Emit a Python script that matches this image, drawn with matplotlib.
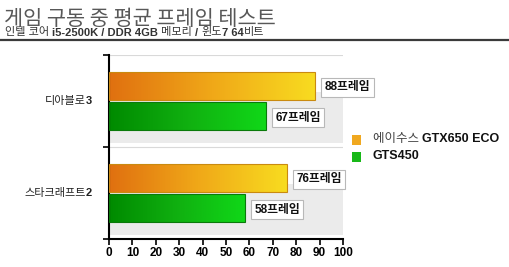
import numpy as np
import matplotlib
matplotlib.use('Agg')
import matplotlib.pyplot as plt
from matplotlib.colors import LinearSegmentedColormap
from matplotlib.patches import Rectangle
from matplotlib.lines import Line2D

# data
games = ['디아블로3', '스타크래프트2']          # top to bottom
game_names = ['디아블로', '스타크래프트']
game_nums = ['3', '2']
gtx650 = [88, 76]
gts450 = [67, 58]
series_prefix = ['에이수스 ', '']
series_model = ['GTX650 ECO', 'GTS450']
unit = '프레임'
xticks = list(range(0, 101, 10))

title = '게임 구동 중 평균 프레임 테스트'
subtitle = [('인텔 코어 ', 'normal'), ('i5-2500K / DDR 4GB', 'bold'), (' 메모리 ', 'normal'),
            ('/ ', 'bold'), ('윈도', 'normal'), ('7 64', 'bold'), ('비트', 'normal')]

FAM = ['Liberation Sans', 'Noto Sans CJK KR']
W, H = 510, 267

orange_cmap = LinearSegmentedColormap.from_list('o', ['#e07010', '#f0a818', '#f8dc20'])
green_cmap = LinearSegmentedColormap.from_list('g', ['#008a00', '#10b010', '#10d818'])
grad = np.linspace(0, 1, 256).reshape(1, -1)

fig = plt.figure(figsize=(W / 100, H / 100), dpi=100)
fig.patch.set_facecolor('white')
ax = fig.add_axes([109 / W, 1 - 239 / H, (343 - 109) / W, (239 - 55) / H])

# header
fig.text(4 / W, 1 - 25 / H, title, family='Noto Sans CJK KR', fontsize=15, color='#585858',
         va='baseline', ha='left')
prev = None
for txt, wt in subtitle:
    if prev is None:
        prev = fig.text(5 / W, 1 - 37.5 / H, txt, family=FAM, fontsize=8, weight=wt,
                        color='#333333', va='bottom', ha='left')
    else:
        prev = ax.annotate(txt, xy=(1, 0), xycoords=prev, family=FAM, fontsize=8,
                           weight=wt, color='#333333', va='bottom', ha='left',
                           annotation_clip=False)
fig.add_artist(Line2D([0, 1], [1 - 40 / H] * 2, transform=fig.transFigure,
                      color='#3a3a3a', lw=1.6))

n = len(games)
centers = [n - 1 - i + 0.5 for i in range(n)]
bh = 0.31
off = 0.165

# gray bands behind each group
for c in centers:
    ax.axhspan(c - 0.46, c + 0.1, color='#ebebeb', zorder=0, lw=0)
for k in range(1, n + 1):
    ax.axhline(k, color='#d9d9d9', lw=0.8, zorder=0.5)


def gradient_bars(vals, ys, cmap, edge):
    bars = ax.barh(ys, vals, height=bh, facecolor='none', edgecolor=edge, lw=0.8, zorder=3)
    for b in bars:
        x0, y0, w, h = b.get_x(), b.get_y(), b.get_width(), b.get_height()
        im = ax.imshow(grad, cmap=cmap, extent=[x0, x0 + w, y0, y0 + h], aspect='auto',
                       zorder=2, interpolation='bilinear')
        im.set_clip_path(b)
    return bars


gradient_bars(gtx650, [c + off for c in centers], orange_cmap, '#c98a10')
gradient_bars(gts450, [c - off for c in centers], green_cmap, '#0a7a0a')

# value labels
for vals, sign in [(gtx650, 1), (gts450, -1)]:
    for v, c in zip(vals, centers):
        ax.annotate(f'{v}{unit}', xy=(v, c + sign * off), xytext=(7, -1),
                    textcoords='offset points', ha='left', va='center', family=FAM,
                    fontsize=8.5, weight='bold', color='#111111', zorder=5,
                    bbox=dict(boxstyle='square,pad=0.28', fc='white', ec='#b8b8b8', lw=0.8))

# category labels
for name, num, c in zip(game_names, game_nums, centers):
    t = ax.annotate(num, xy=(0, c), xycoords=ax.get_yaxis_transform(), xytext=(-12, 0),
                    textcoords='offset points', ha='right', va='center', family=FAM,
                    fontsize=8, weight='bold', color='#222222', annotation_clip=False)
    ax.annotate(name, xy=(0, 0), xycoords=t, ha='right', va='bottom', family=FAM,
                fontsize=8, color='#222222', annotation_clip=False)

ax.set_xlim(0, 100)
ax.set_ylim(0, n)
ax.set_xticks(xticks)
ax.set_xticklabels([str(x) for x in xticks], family='Liberation Sans', weight='bold', fontsize=8.5)
ax.set_yticks(range(0, n + 1))
ax.set_yticklabels([])
ax.tick_params(axis='both', direction='out', length=4, width=1.2, color='black', pad=2)
for s in ['top', 'right']:
    ax.spines[s].set_visible(False)
for s in ['left', 'bottom']:
    ax.spines[s].set_linewidth(1.5)
ax.set_facecolor('white')

# legend
leg_y = [140, 157]
leg_cols = ['#f0a820', '#18b818']
for pre, model, col, y in zip(series_prefix, series_model, leg_cols, leg_y):
    fig.patches.append(Rectangle((352 / W, 1 - (y + 5) / H), 9 / W, 10 / H,
                                 transform=fig.transFigure, fc=col, ec='none'))
    t = fig.text(373 / W, 1 - (y + 5) / H, pre, family=FAM, fontsize=9, color='#444444',
                 va='bottom', ha='left')
    ax.annotate(model, xy=(1, 0), xycoords=t, family=FAM, fontsize=9, weight='bold',
                color='#111111', va='bottom', ha='left', annotation_clip=False)

fig.savefig('out.png', dpi=100)
